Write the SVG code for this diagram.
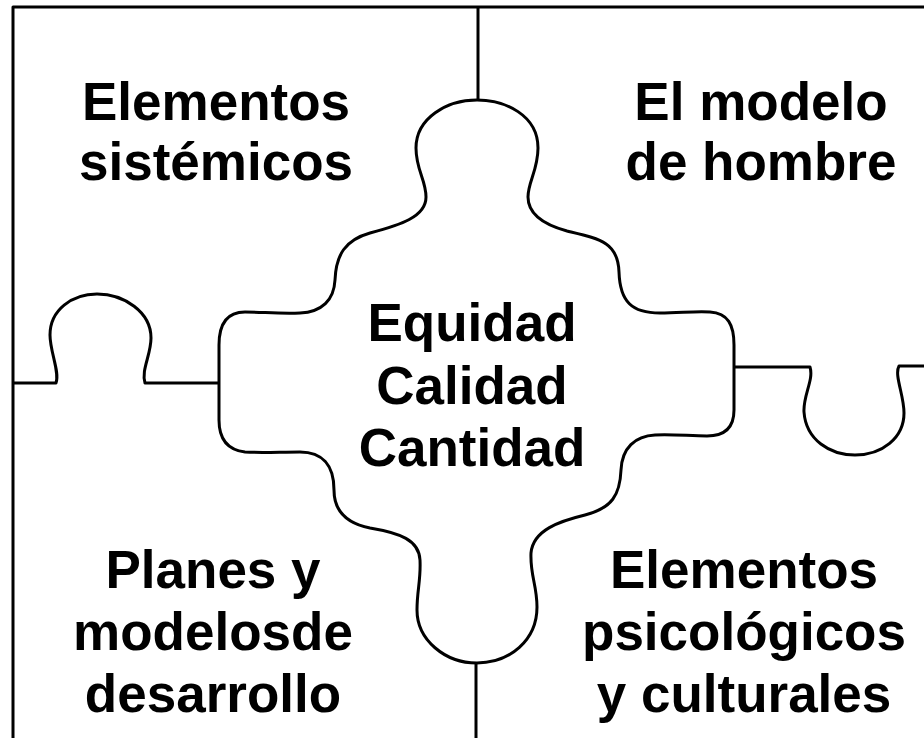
<svg xmlns="http://www.w3.org/2000/svg" width="924" height="738" viewBox="0 0 924 738">
<style>
.ln{fill:none;stroke:#000;stroke-width:3;stroke-linejoin:round}
.t{font-family:"Liberation Sans",Arial,sans-serif;font-weight:bold;font-size:53px;fill:#000;text-anchor:middle}
</style>
<rect width="924" height="738" fill="#fff"/>
<g id="connectors">
<path class="ln" d="M13 738 L13 7 L924 7"/>
<path class="ln" d="M478 7 L478 100"/>
<path class="ln" d="M476 663 L476 738"/>
<path class="ln" d="M13 383 L56 383 C60 372 50 352 50 335 C50 310 72 294 97 294 C124 294 151 312 151 338 C151 355 141 370 145 383 L219 383"/>
<path class="ln" d="M734 367 L810 367 C814 380 803 395 804 412 C806 440 830 455 855 455 C882 455 904 438 904 413 C904 395 894 375 899 366 L924 366"/>
</g>
<g id="center-piece">
<path class="ln" d="M477 100 C505 100 538 115 538 148 C538 170 528 182 528 197 C528 215 545 225 567 231 C600 239 618 242 619 272 C620 302 632 313 660 313 C680 313 695 311 710 312 C728 313 734 325 734 345 L734 410 C734 425 727 436 707 436 C690 436 672 434 655 435 C635 436 622 448 621 470 C620 495 612 508 585 515 C560 521 533 530 531 553 C530 575 537 585 537 607 C537 640 510 663 477 663 C445 663 417 640 417 610 C417 590 421 580 420 560 C419 540 400 533 370 528 C345 523 334 510 334 490 C334 465 322 452 300 452 C280 452 260 453 245 452 C228 450 219 440 219 420 L219 345 C219 322 228 312 245 312 C262 312 280 314 300 313 C322 312 334 300 335 280 C336 255 345 240 370 233 C400 225 426 217 426 197 C426 180 416 170 416 148 C416 118 447 100 477 100 Z"/>
<text class="t" x="472" y="341">Equidad</text>
<text class="t" x="472" y="404">Calidad</text>
<text class="t" x="472" y="466">Cantidad</text>
</g>
<g id="top-left">
<text class="t" x="216" y="120">Elementos</text>
<text class="t" x="216" y="180">sistémicos</text>
</g>
<g id="top-right">
<text class="t" x="761" y="120">El modelo</text>
<text class="t" x="761" y="180">de hombre</text>
</g>
<g id="bottom-left">
<text class="t" x="213" y="588">Planes y</text>
<text class="t" x="213" y="650">modelosde</text>
<text class="t" x="213" y="712">desarrollo</text>
</g>
<g id="bottom-right">
<text class="t" x="744" y="588">Elementos</text>
<text class="t" x="744" y="650">psicológicos</text>
<text class="t" x="744" y="712">y culturales</text>
</g>
</svg>
